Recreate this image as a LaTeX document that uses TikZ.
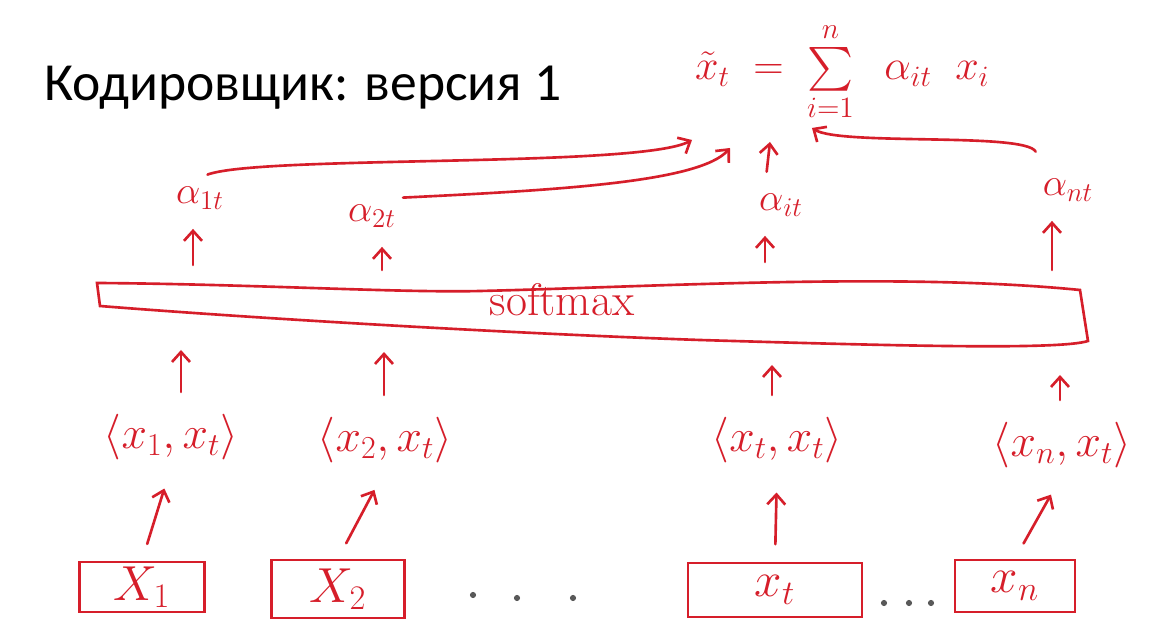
\RequirePackage{fix-cm}
\documentclass[tikz,border=0pt]{standalone}
\usepackage{amsmath}
\usepackage{fontspec}
\newfontfamily\titlefont{Carlito}
\usetikzlibrary{arrows.meta}
\definecolor{pen}{RGB}{214,30,42}

\begin{document}
\begin{tikzpicture}[x=0.02cm, y=-0.02cm, line width=1.5pt, line cap=round, pen,
  every node/.style={text=pen, anchor=center},
  arr/.style={-{Straight Barb[length=2mm,width=3.6mm]}},
  inbox/.style={draw, inner sep=0pt, font=\fontsize{28}{32}\selectfont},
  prod/.style={font=\fontsize{26}{30}\selectfont},
  wgt/.style={font=\fontsize{22}{26}\selectfont},
  gapdot/.style={circle, fill=black!65, draw=none, inner sep=0pt, minimum size=3.5pt}]
\fill[white] (0,0) rectangle (1154,638);
\useasboundingbox (0,0) rectangle (1154,638);

\node[anchor=base west, text=black, font=\titlefont\fontsize{30.5}{36}\selectfont] (title) at (37,101) {Кодировщик: версия 1};
\node[anchor=west, font=\fontsize{24}{28}\selectfont] (sum) at (688,72) {$\tilde{x}_t \;=\; \sum\limits_{i=1}^{n}\;\; \alpha_{it}\;\; x_i$};

% inputs
\node[inbox, minimum width=2.5cm, minimum height=1cm] (x1) at (142,587) {$X_1$};
\node[inbox, minimum width=2.66cm, minimum height=1.16cm] (x2) at (338,589) {$X_2$};
\node[inbox, minimum width=3.48cm, minimum height=1.08cm] (xt) at (775,590) {$x_t$};
\node[inbox, minimum width=2.4cm, minimum height=1.04cm] (xn) at (1015,586) {$x_n$};
\node[gapdot] (d1) at (473,595) {};
\node[gapdot] (d2) at (517,598) {};
\node[gapdot] (d3) at (573,598) {};
\node[gapdot] (d4) at (884,603) {};
\node[gapdot] (d5) at (909,603) {};
\node[gapdot] (d6) at (931,603) {};

% scalar products
\node[prod] (p1) at (171,437) {$\langle x_1, x_t\rangle$};
\node[prod] (p2) at (385,440) {$\langle x_2, x_t\rangle$};
\node[prod] (pt) at (777,440) {$\langle x_t, x_t\rangle$};
\node[prod] (pn) at (1062,445) {$\langle x_n, x_t\rangle$};

\draw[arr, shorten <=0.35cm, shorten >=0.45cm] (x1.north) -- (p1.south);
\draw[arr, shorten <=0.35cm, shorten >=0.45cm] (x2.north) -- (p2.south);
\draw[arr, shorten <=0.35cm, shorten >=0.45cm] (xt.north) -- (pt.south);
\draw[arr, shorten <=0.35cm, shorten >=0.45cm] (xn.north) -- (pn.south);

% softmax
\node[font=\fontsize{26}{30}\selectfont] (sm) at (562,300) {softmax};
\draw (97,283) .. controls (250,284) and (400,293) .. (480,291)
  .. controls (650,287) and (900,272) .. (1080,290) -- (1088,341)
  .. controls (1060,350) and (900,346) .. (700,340)
  .. controls (500,333) and (250,318) .. (100,306) -- cycle;

\coordinate (sb1) at (181,350);
\coordinate (sb2) at (384,352);
\coordinate (sb3) at (772,365);
\coordinate (sb4) at (1060,375);
\draw[arr, shorten <=0.3cm] (sb1 |- p1.north) -- (sb1);
\draw[arr, shorten <=0.3cm] (sb2 |- p2.north) -- (sb2);
\draw[arr, shorten <=0.3cm] (sb3 |- pt.north) -- (sb3);
\draw[arr, shorten <=0.3cm] (sb4 |- pn.north) -- (sb4);

% weights
\node[wgt] (a1) at (200,198) {$\alpha_{1t}$};
\node[wgt] (a2) at (372,216) {$\alpha_{2t}$};
\node[wgt] (ai) at (781,205) {$\alpha_{it}$};
\node[wgt] (an) at (1068,190) {$\alpha_{nt}$};

\coordinate (st1) at (193,265);
\coordinate (st2) at (382,270);
\coordinate (st3) at (765,262);
\coordinate (st4) at (1052,270);
\draw[arr, shorten >=0.25cm] (st1) -- (st1 |- a1.south);
\draw[arr, shorten >=0.25cm] (st2) -- (st2 |- a2.south);
\draw[arr, shorten >=0.25cm] (st3) -- (st3 |- ai.south);
\draw[arr, shorten >=0.25cm] (st4) -- (st4 |- an.south);

\draw[arr] ([xshift=0.15cm, yshift=0.1cm]a1.north) .. controls (260,155) and (640,168)
  .. ([xshift=0.08cm, yshift=-1.36cm]sum.west);
\draw[arr] (a2.north east) .. controls (560,190) and (700,182)
  .. ([xshift=0.84cm, yshift=-1.52cm]sum.west);
\draw[arr, shorten <=0.3cm] (st3 |- ai.north) -- ([xshift=1.64cm, yshift=-1.4cm]sum.west);
\draw[arr] ([yshift=0.4cm]an.north west) .. controls (1025,132) and (840,146)
  .. ([xshift=2.48cm, yshift=-1.12cm]sum.west);
\end{tikzpicture}
\end{document}
